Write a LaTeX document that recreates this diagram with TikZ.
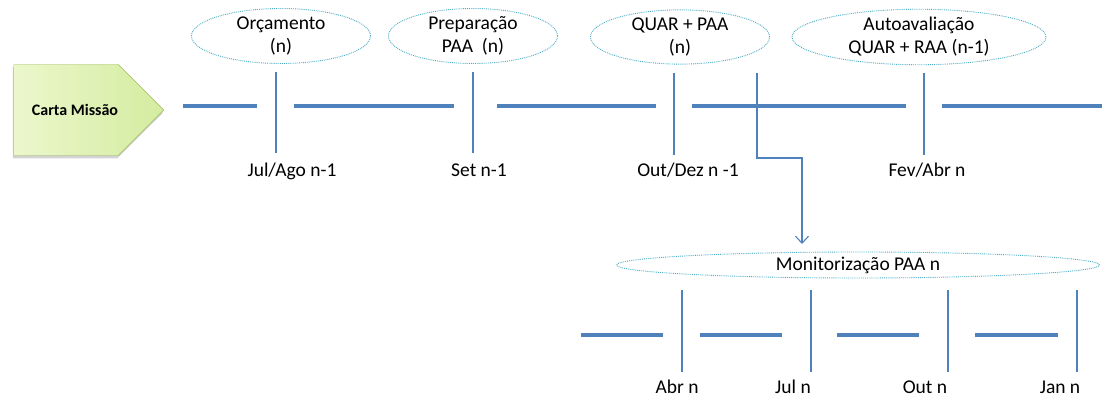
\documentclass[tikz,border=0pt]{standalone}
\usepackage{fontspec}
\setmainfont{Carlito}
\definecolor{lineblue}{RGB}{79,129,189}
\definecolor{dotcyan}{RGB}{75,172,198}
\definecolor{cartalight}{RGB}{236,247,204}
\definecolor{cartadark}{RGB}{212,236,160}
\definecolor{cartaborder}{RGB}{155,187,89}
\usetikzlibrary{shapes.geometric,shapes.symbols,arrows.meta,shadows}

\begin{document}
\begin{tikzpicture}[x=1pt,y=-1pt,
  every node/.style={font=\fontsize{19.5}{23}\selectfont},
  fase/.style={ellipse,draw=dotcyan,densely dotted,line width=0.9pt,align=center,inner sep=0pt},
  seg/.style={lineblue,line width=3.5pt},
  marca/.style={lineblue,line width=1.1pt},
  mes/.style={anchor=base}]
  \useasboundingbox (0,0) rectangle (1104,398);
  % carta missao
  \node[signal,signal to=east,draw=cartaborder,left color=cartalight,right color=cartadark,
        drop shadow={opacity=0.35,shadow xshift=-1pt,shadow yshift=-3pt},
        minimum width=150pt,minimum height=91pt] (carta) at (66,110) {};
  \node[font=\fontsize{16}{18}\selectfont\bfseries] (cartatxt) at (75,110) {Carta Missão};
  % fases
  \node[fase,minimum width=179pt,minimum height=55pt] (orc) at (281,36) {Orçamento\\(n)};
  \node[fase,minimum width=169pt,minimum height=55pt] (prep) at (473,36) {Preparação\\PAA~~(n)};
  \node[fase,minimum width=179pt,minimum height=54pt] (quar) at (680,37) {QUAR + PAA\\(n)};
  \node[fase,minimum width=254pt,minimum height=54pt] (auto) at (919,37) {Autoavaliação\\QUAR + RAA (n-1)};
  \node[fase,minimum width=483pt,minimum height=26pt] (mon) at (858,265) {Monitorização PAA n};
  % linha principal
  \draw[seg] (183,106) -- (257,106);
  \draw[seg] (294,106) -- (454,106);
  \draw[seg] (497,106) -- (656,106);
  \draw[seg] (692,106) -- (906,106);
  \draw[seg] (942,106) -- (1102,106);
  \draw[marca] (276,72) -- (276,153);
  \draw[marca] (473,72) -- (473,153);
  \draw[marca] (674,73) -- (674,155);
  \draw[marca] (924,73) -- (924,155);
  \node[mes] (julago) at (292,177) {Jul/Ago n-1};
  \node[mes] (set) at (479,177) {Set n-1};
  \node[mes] (outdez) at (688,177) {Out/Dez n -1};
  \node[mes] (fevabr) at (927,177) {Fev/Abr n};
  % ligacao
  \coordinate (orig) at (757,73);
  \coordinate (quebra) at (802,158);
  \coordinate (alvo) at (802,244);
  \draw[lineblue,line width=1.1pt,-{Straight Barb[length=7pt,width=13pt]}] (orig) |- (quebra) -- (alvo);
  % linha de monitorizacao
  \draw[seg] (581,335) -- (663,335);
  \draw[seg] (700,335) -- (782,335);
  \draw[seg] (837,335) -- (919,335);
  \draw[seg] (975,335) -- (1058,335);
  \draw[marca] (682,290) -- (682,372);
  \draw[marca] (811,290) -- (811,372);
  \draw[marca] (948,290) -- (948,372);
  \draw[marca] (1077,290) -- (1077,372);
  \node[mes] (abr) at (677,393) {Abr n};
  \node[mes] (jul) at (793,393) {Jul n};
  \node[mes] (out) at (925,393) {Out n};
  \node[mes] (jan) at (1060,393) {Jan n};
\end{tikzpicture}
\end{document}
